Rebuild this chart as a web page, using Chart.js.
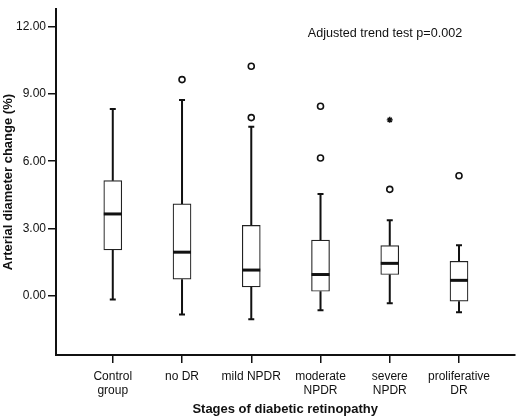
<!DOCTYPE html>
<html><head><meta charset="utf-8">
<script src="https://cdn.jsdelivr.net/npm/chart.js@4/dist/chart.umd.min.js"></script>
<style>html,body{margin:0;padding:0;background:#fff}#wrap{width:520px;height:417px}</style>
</head><body><div id="wrap"><canvas id="c"></canvas></div>
<script>
const categories = [["Control","group"],["no DR"],["mild NPDR"],["moderate","NPDR"],["severe","NPDR"],["proliferative","DR"]];
const whiskerLow = [-0.19, -0.86, -1.07, -0.67, -0.36, -0.76];
const q1 =         [2.03, 0.72, 0.38, 0.18, 0.93, -0.26];
const medians =    [3.64, 1.93, 1.13, 0.93, 1.43, 0.67];
const q3 =         [5.13, 4.09, 3.13, 2.47, 2.22, 1.52];
const whiskerHigh = [8.33, 8.74, 7.54, 4.53, 3.36, 2.24];
const outlierGroup = [1, 2, 2, 3, 3, 4, 5];
const outlierValue = [9.65, 10.25, 7.95, 8.46, 6.14, 4.74, 5.35];
const extremeGroup = [4];
const extremeValue = [7.85];
const yTicks = [0, 3, 6, 9, 12];
const annotation = "Adjusted trend test p=0.002";

const FONT = "'Liberation Sans', Arial, sans-serif";
Chart.defaults.font.family = FONT;
Chart.defaults.color = '#111';

const boxExtras = {
  id: 'boxExtras',
  afterDatasetsDraw(chart) {
    const {ctx, scales: {x, y}} = chart;
    ctx.save();
    ctx.strokeStyle = '#111';
    for (let i = 0; i < categories.length; i++) {
      const px = x.getPixelForValue(i);
      ctx.lineWidth = 2;
      ctx.beginPath();
      ctx.moveTo(px, y.getPixelForValue(q3[i]));
      ctx.lineTo(px, y.getPixelForValue(whiskerHigh[i]));
      ctx.moveTo(px, y.getPixelForValue(q1[i]));
      ctx.lineTo(px, y.getPixelForValue(whiskerLow[i]));
      ctx.moveTo(px - 3, y.getPixelForValue(whiskerHigh[i]));
      ctx.lineTo(px + 3, y.getPixelForValue(whiskerHigh[i]));
      ctx.moveTo(px - 3, y.getPixelForValue(whiskerLow[i]));
      ctx.lineTo(px + 3, y.getPixelForValue(whiskerLow[i]));
      ctx.stroke();
      ctx.lineWidth = 3;
      ctx.beginPath();
      ctx.moveTo(px - 9, y.getPixelForValue(medians[i]));
      ctx.lineTo(px + 9, y.getPixelForValue(medians[i]));
      ctx.stroke();
    }
    ctx.fillStyle = '#111';
    ctx.font = '12.6px ' + FONT;
    ctx.textAlign = 'center';
    ctx.textBaseline = 'middle';
    ctx.fillText(annotation, chart.chartArea.left + 329, chart.chartArea.top + 24);
    ctx.restore();
  }
};

new Chart(document.getElementById('c'), {
  type: 'bar',
  data: {
    datasets: [
      {
        type: 'bar',
        data: q1.map((v, i) => ({x: i, y: [v, q3[i]]})),
        backgroundColor: '#fff',
        borderColor: '#222',
        borderWidth: 1.2,
        borderSkipped: false,
        barThickness: 18
      },
      {
        type: 'scatter',
        data: outlierGroup.map((g, i) => ({x: g, y: outlierValue[i]})),
        pointStyle: 'circle',
        pointRadius: 3,
        pointBorderWidth: 1.6,
        pointBackgroundColor: '#fff',
        pointBorderColor: '#111'
      },
      {
        type: 'scatter',
        data: extremeGroup.map((g, i) => ({x: g, y: extremeValue[i]})),
        pointStyle: 'star',
        pointRadius: 3,
        pointBorderWidth: 1.4,
        pointBackgroundColor: '#111',
        pointBorderColor: '#111'
      }
    ]
  },
  options: {
    responsive: true,
    maintainAspectRatio: false,
    animation: false,
    layout: {padding: {left: 0, top: 2, right: 3, bottom: 0}},
    plugins: {legend: {display: false}, tooltip: {enabled: false}},
    scales: {
      x: {
        type: 'linear',
        min: -0.82,
        max: 5.8,
        offset: false,
        afterBuildTicks: s => { s.ticks = categories.map((c, i) => ({value: i})); },
        afterFit: s => { s.height = 62; },
        ticks: {
          callback: v => categories[v],
          font: {size: 12},
          color: '#111',
          padding: 6,
          maxRotation: 0,
          autoSkip: false
        },
        grid: {offset: false, drawOnChartArea: false, drawTicks: true, tickLength: 8, color: '#111', lineWidth: 1.5},
        border: {display: true, color: '#111', width: 2},
        title: {display: true, text: 'Stages of diabetic retinopathy', font: {size: 13, weight: 'bold'}, color: '#111', padding: {top: 0, bottom: 0}}
      },
      y: {
        min: -2.67,
        max: 12.8,
        afterBuildTicks: s => { s.ticks = yTicks.map(v => ({value: v})); },
        afterFit: s => { s.width = 56; },
        ticks: {
          callback: v => v.toFixed(2),
          font: {size: 12},
          color: '#111',
          padding: 2
        },
        grid: {drawOnChartArea: false, drawTicks: true, tickLength: 8, color: '#111', lineWidth: 1.5},
        border: {display: true, color: '#111', width: 2},
        title: {display: true, text: 'Arterial diameter change (%)', font: {size: 13, weight: 'bold'}, color: '#111', padding: {top: 1, bottom: 0}}
      }
    }
  },
  plugins: [boxExtras]
});
</script>
</body></html>
